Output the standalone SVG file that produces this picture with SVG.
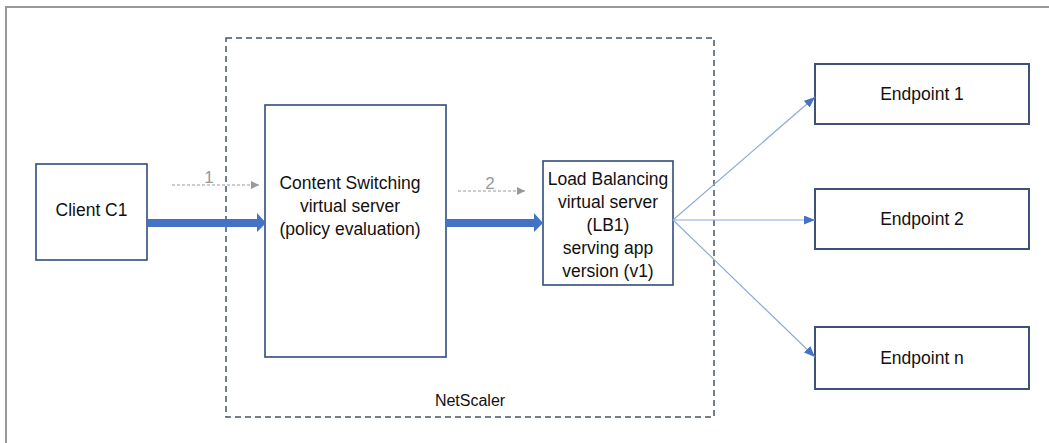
<svg xmlns="http://www.w3.org/2000/svg" width="1049" height="443" viewBox="0 0 1049 443">
<style>
.box{fill:#fff;stroke:#2F4B7C;stroke-width:1.6}
.ep{fill:#fff;stroke:#3E5275;stroke-width:2}
.t{font-family:"Liberation Sans",Arial,sans-serif;font-size:17.5px;fill:#111;text-anchor:middle}
.num{font-family:"Liberation Sans",Arial,sans-serif;font-size:17px;fill:#999;text-anchor:middle}
.dash{stroke:#999;stroke-width:1;stroke-dasharray:3 2;fill:none}
.thin{stroke:#8FAADC;stroke-width:1.2;fill:none}
.thick{fill:#4472C4}
</style>
<defs>
<marker id="ga" viewBox="0 0 10 10" refX="10" refY="5" markerWidth="8" markerHeight="8" markerUnits="userSpaceOnUse" orient="auto"><path d="M0,0 L10,5 L0,10 z" fill="#999"/></marker>
<marker id="ba" viewBox="0 0 10 10" refX="10" refY="5" markerWidth="11" markerHeight="9" markerUnits="userSpaceOnUse" orient="auto" preserveAspectRatio="none"><path d="M0,0 L10,5 L0,10 z" fill="#4472C4"/></marker>
</defs>
<rect width="1049" height="443" fill="#fff"/>
<path d="M6,443 V7 H1049" fill="none" stroke="#999" stroke-width="2"/>
<g id="netscaler">
<rect x="226" y="38" width="488" height="379" fill="none" stroke="#44546A" stroke-width="1.5" stroke-dasharray="6 4"/>
<text class="t" x="470" y="406" style="font-size:16px">NetScaler</text>
</g>
<g id="client">
<rect class="box" x="36" y="164" width="111" height="96"/>
<text class="t" x="91.5" y="216">Client C1</text>
</g>
<g id="cs">
<rect class="box" x="265" y="105" width="181" height="252"/>
<text class="t" x="350" y="189">Content Switching</text>
<text class="t" x="350" y="212">virtual server</text>
<text class="t" x="350" y="235">(policy evaluation)</text>
</g>
<g id="lb">
<rect class="box" x="543" y="161" width="130" height="124"/>
<text class="t" x="608" y="185">Load Balancing</text>
<text class="t" x="608" y="208">virtual server</text>
<text class="t" x="608" y="231">(LB1)</text>
<text class="t" x="608" y="254">serving app</text>
<text class="t" x="608" y="277">version (v1)</text>
</g>
<g id="ep1">
<rect class="ep" x="815" y="64" width="214" height="60"/>
<text class="t" x="922" y="100">Endpoint 1</text>
</g>
<g id="ep2">
<rect class="ep" x="815" y="189" width="214" height="60"/>
<text class="t" x="922" y="225">Endpoint 2</text>
</g>
<g id="epn">
<rect class="ep" x="815" y="327" width="214" height="62"/>
<text class="t" x="922" y="364">Endpoint n</text>
</g>
<g id="connectors">
<path class="thick" d="M147,219 H257 V213 L266,223 L257,232 V227 H147 z"/>
<path class="thick" d="M446,219 H534 V213 L543,223 L534,232 V227 H446 z"/>
<line class="dash" x1="172" y1="185" x2="259" y2="185" marker-end="url(#ga)"/>
<text class="num" x="209" y="183">1</text>
<line class="dash" x1="458" y1="191" x2="525" y2="191" marker-end="url(#ga)"/>
<text class="num" x="490" y="189">2</text>
<line class="thin" x1="673" y1="220" x2="815" y2="97" marker-end="url(#ba)"/>
<line class="thin" x1="673" y1="220" x2="815" y2="220" marker-end="url(#ba)"/>
<line class="thin" x1="673" y1="220" x2="815" y2="357" marker-end="url(#ba)"/>
</g>
</svg>
